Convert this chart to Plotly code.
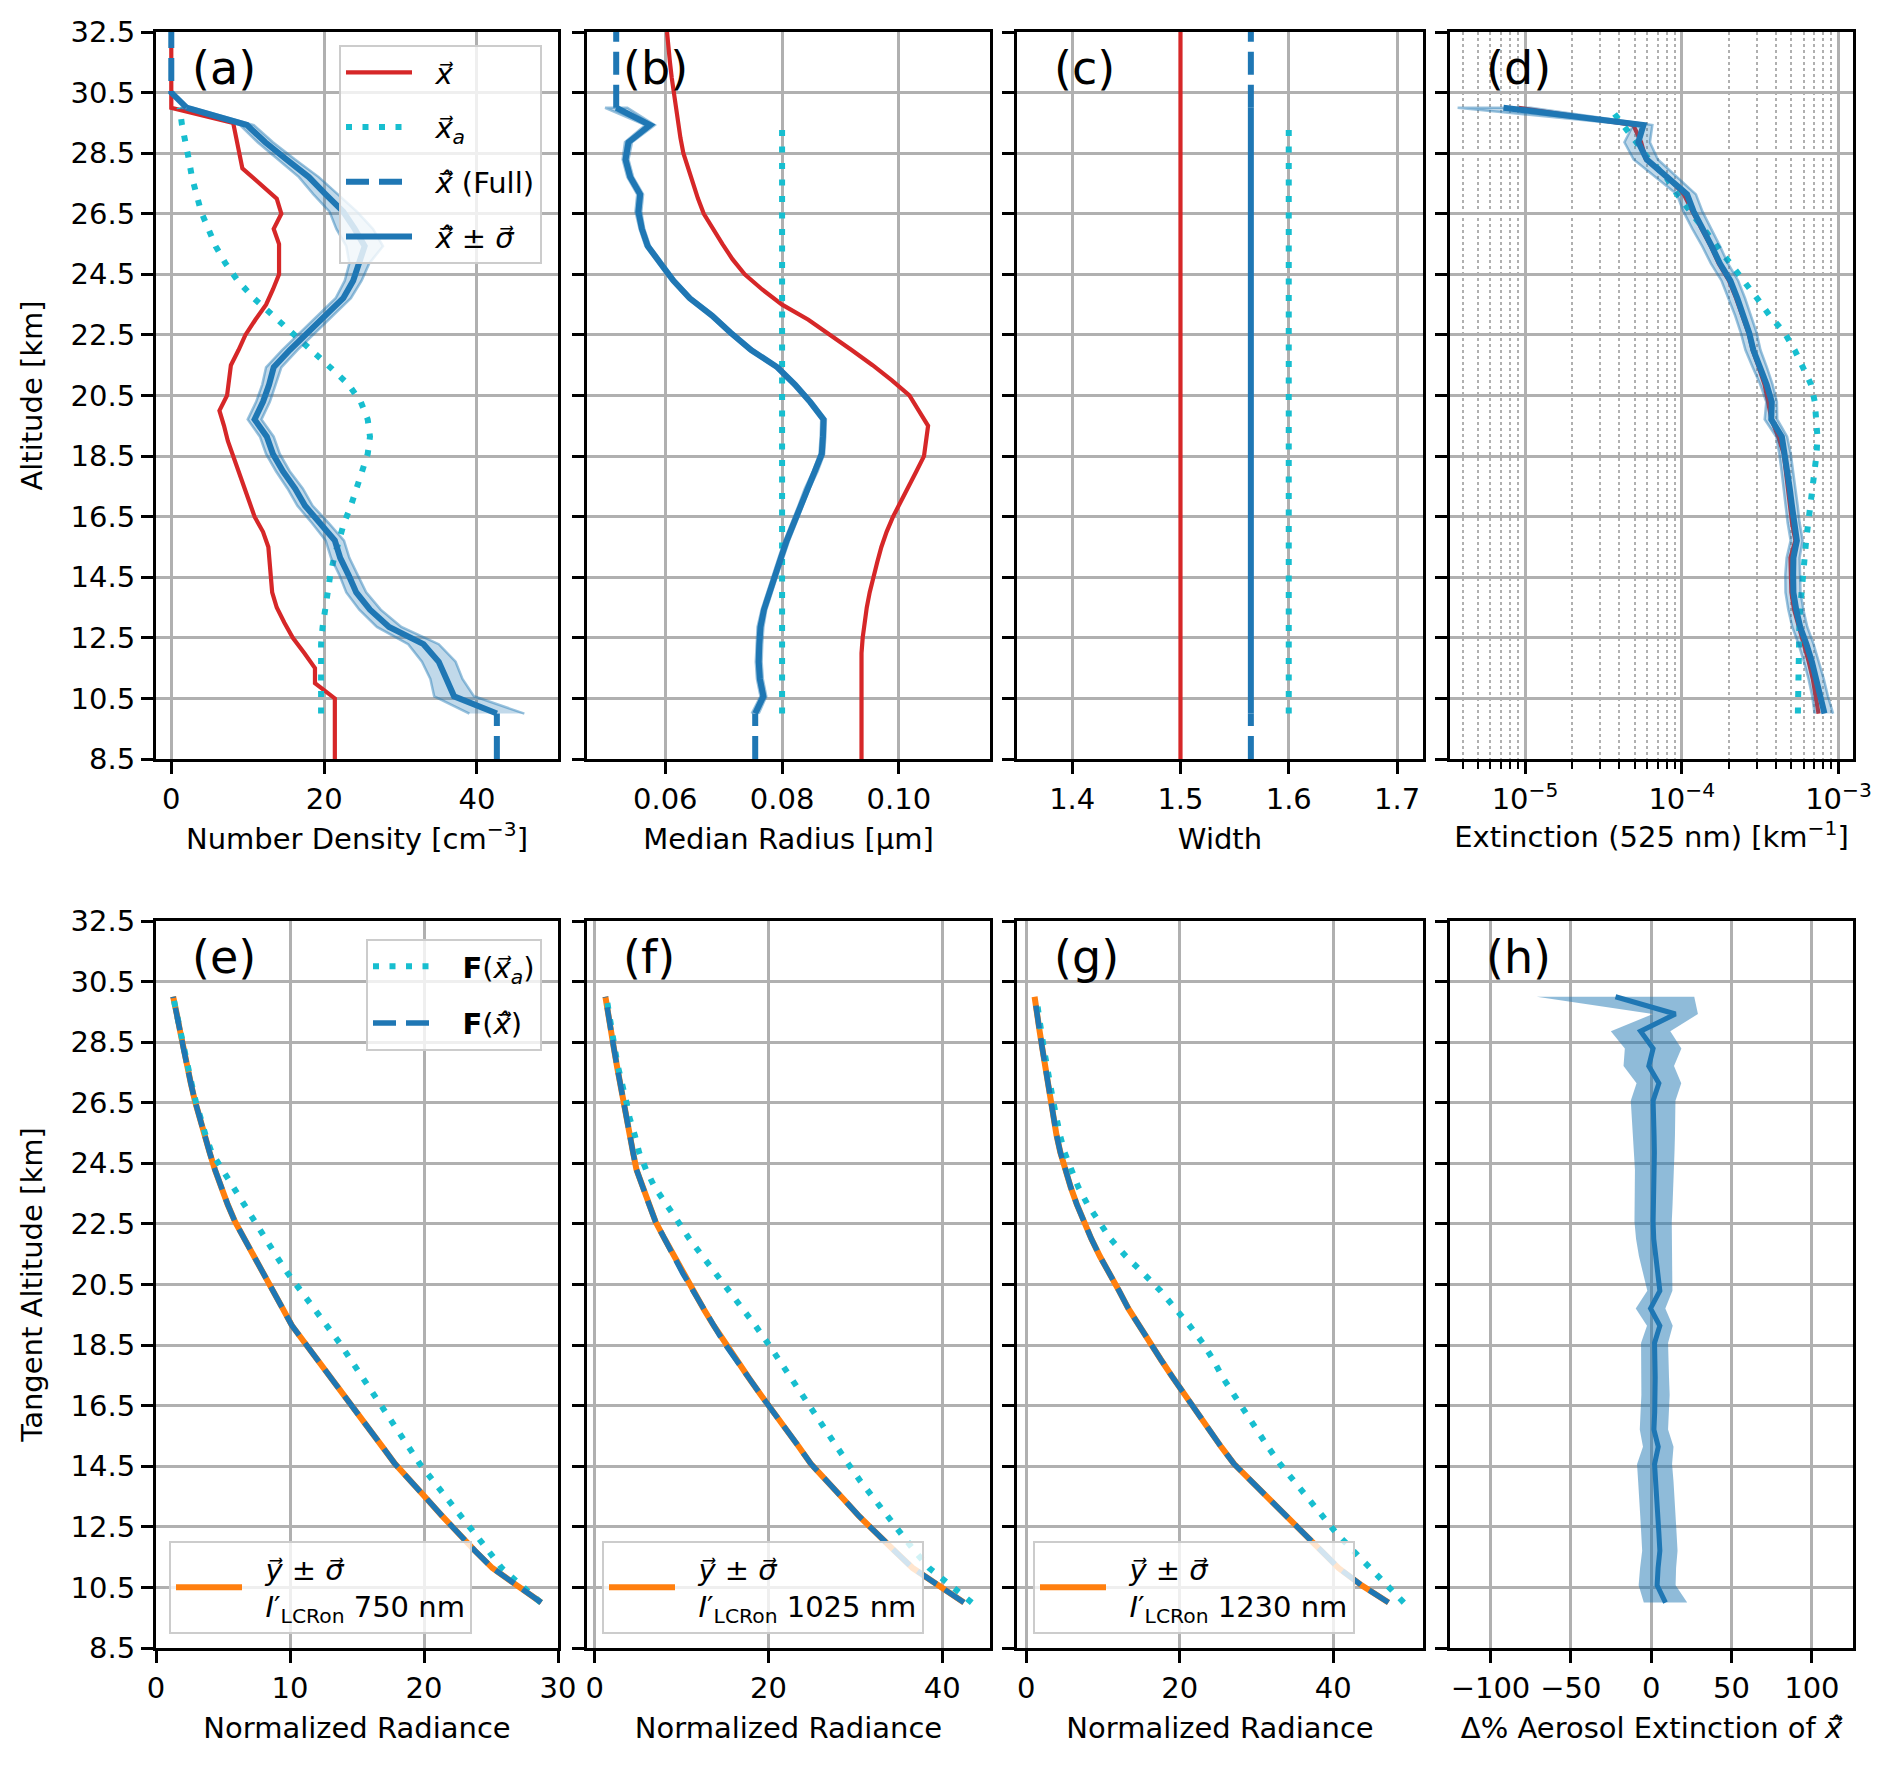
import plotly.graph_objects as go

# ---- altitude grids [km] ----
alt_ret = [10.00, 10.57, 11.14, 11.71, 12.29, 12.86, 13.43, 14.00, 14.57, 15.14,
           15.71, 16.29, 16.86, 17.43, 18.00, 18.57, 19.14, 19.71, 20.29, 20.86,
           21.43, 22.00, 22.57, 23.14, 23.71, 24.29, 24.86, 25.43, 26.00, 26.57,
           27.14, 27.71, 28.29, 28.86, 29.43, 30.00]
alt_prior_bc = [10.00, 10.57, 11.14, 11.71, 12.29, 12.86, 13.43, 14.00, 14.57, 15.14,
                15.71, 16.29, 16.86, 17.43, 18.00, 18.57, 19.14, 19.71, 20.29, 20.86,
                21.43, 22.00, 22.57, 23.14, 23.71, 24.29, 24.86, 25.43, 26.00, 26.57,
                27.14, 27.71, 28.29, 28.86, 29.43]
alt_true = [8.5, 9.0, 9.5, 10.0, 10.5, 11.0, 11.5, 12.0, 12.5, 13.0,
            13.5, 14.0, 14.5, 15.0, 15.5, 16.0, 16.5, 17.0, 17.5, 18.0,
            18.5, 19.0, 19.5, 20.0, 20.5, 21.0, 21.5, 22.0, 22.5, 23.0,
            23.5, 24.0, 24.5, 25.0, 25.5, 26.0, 26.5, 27.0, 27.5, 28.0,
            28.5, 29.0, 29.5, 30.0, 30.5, 31.0, 31.5, 32.0, 32.5]
alt_full_lo = [8.5, 10.0]
alt_full_hi = [30.0, 30.5, 32.5]
alt_ticks = [8.5, 10.5, 12.5, 14.5, 16.5, 18.5, 20.5, 22.5, 24.5, 26.5, 28.5, 30.5, 32.5]

# ---- (a) number density [cm^-3] ----
nd_true = [21.4, 21.4, 21.4, 21.4, 21.4, 18.8, 18.8, 17.4, 15.9, 14.8,
           13.8, 13.2, 13.0, 12.9, 12.7, 12.0, 10.9, 10.2, 9.5, 8.7,
           8.0, 7.4, 6.9, 6.3, 7.3, 7.5, 7.8, 8.8, 9.7, 11.0,
           12.4, 13.3, 14.1, 14.1, 14.1, 13.4, 14.4, 13.8, 11.5, 9.3,
           8.9, 8.5, 8.1, 0.0, 0.0, 0.0, 0.0, 0.0, 0.0]
nd_prior = [19.6, 19.6, 19.6, 19.6, 19.6, 19.8, 20.1, 20.4, 20.8, 21.3,
            21.9, 22.6, 23.5, 24.3, 25.1, 25.7, 26.0, 25.7, 24.8, 23.2,
            20.8, 18.4, 15.8, 13.3, 10.8, 8.7, 7.1, 5.8, 4.8, 3.9,
            3.3, 2.7, 2.3, 1.8, 1.4, 1.1]
nd_ret = [42.6, 37.0, 36.0, 35.0, 33.0, 28.5, 26.0, 24.2, 23.2, 22.1,
          21.4, 19.5, 17.5, 16.2, 14.6, 13.3, 12.5, 10.9, 12.0, 12.8,
          13.4, 15.5, 17.8, 20.2, 22.5, 23.8, 24.6, 25.3, 24.0, 22.5,
          20.2, 18.0, 15.1, 12.3, 9.9, 2.0]
nd_sig = [3.6, 2.6, 2.1, 2.2, 2.0, 1.6, 1.4, 1.3, 1.2, 1.2,
          1.2, 1.1, 1.0, 1.0, 0.9, 0.9, 0.9, 0.9, 0.9, 0.9,
          1.0, 1.0, 1.0, 1.0, 1.0, 1.1, 1.3, 2.4, 2.4, 1.8,
          1.6, 1.3, 1.1, 1.0, 0.9, 0.8]
nd_full_lo = [42.6, 42.6]
nd_full_hi = [2.0, 0.0, 0.0]

# ---- (b) median radius [um] ----
rad_true = [0.0936, 0.0936, 0.0936, 0.0936, 0.0936, 0.0936, 0.0936, 0.0936, 0.0938, 0.0941,
            0.0945, 0.0950, 0.0956, 0.0963, 0.0970, 0.0979, 0.0990, 0.1004, 0.1017, 0.1030,
            0.1043, 0.1047, 0.1050, 0.1034, 0.1018, 0.0988, 0.0955, 0.0919, 0.0883, 0.0845,
            0.0800, 0.0766, 0.0736, 0.0715, 0.0698, 0.0681, 0.0666, 0.0656, 0.0648, 0.0639,
            0.0631, 0.0626, 0.0622, 0.0618, 0.0614, 0.0611, 0.0608, 0.0606, 0.0603]
rad_prior = 0.080
rad_ret = [0.0754, 0.0768, 0.0762, 0.0760, 0.0761, 0.0763, 0.0769, 0.0778, 0.0788, 0.0798,
           0.0808, 0.0820, 0.0832, 0.0843, 0.0857, 0.0868, 0.0870, 0.0871, 0.0848, 0.0822,
           0.0792, 0.0747, 0.0712, 0.0680, 0.0642, 0.0614, 0.0592, 0.0570, 0.0560, 0.0554,
           0.0557, 0.0540, 0.0532, 0.0537, 0.0574, 0.0516]
rad_sig = [0.0006, 0.0005, 0.0005, 0.0005, 0.0005, 0.0005, 0.0004, 0.0004, 0.0004, 0.0004,
           0.0004, 0.0004, 0.0004, 0.0004, 0.0004, 0.0004, 0.0004, 0.0004, 0.0004, 0.0004,
           0.0004, 0.0004, 0.0004, 0.0004, 0.0004, 0.0004, 0.0004, 0.0004, 0.0004, 0.0005,
           0.0005, 0.0005, 0.0005, 0.0006, 0.0008, 0.0019]
rad_full_lo = [0.0754, 0.0754]
rad_full_hi = [0.0516, 0.0516, 0.0516]

# ---- (c) distribution width ----
wid_true = 1.5
wid_prior = 1.6
wid_ret = 1.565

# ---- (d) extinction at 525 nm [km^-1] ----
ext_true = [7.45e-4, 7.15e-4, 6.85e-4, 6.45e-4, 6.00e-4, 5.50e-4, 5.20e-4, 5.00e-4, 5.00e-4, 4.93e-4,
            5.30e-4, 5.05e-4, 4.90e-4, 4.76e-4, 4.63e-4, 4.47e-4, 4.12e-4, 3.73e-4, 3.55e-4, 3.37e-4,
            3.10e-4, 2.83e-4, 2.66e-4, 2.44e-4, 2.22e-4, 2.00e-4, 1.72e-4, 1.53e-4, 1.33e-4, 1.17e-4,
            1.03e-4, 8.10e-5, 5.90e-5, 5.50e-5, 4.90e-5, 9.10e-6]
ext_prior = [5.50e-4, 5.50e-4, 5.50e-4, 5.52e-4, 5.55e-4, 5.62e-4, 5.68e-4, 5.79e-4, 5.92e-4, 6.05e-4,
             6.21e-4, 6.40e-4, 6.61e-4, 6.87e-4, 7.11e-4, 7.24e-4, 7.33e-4, 7.24e-4, 7.05e-4, 6.68e-4,
             5.96e-4, 5.25e-4, 4.52e-4, 3.63e-4, 3.02e-4, 2.48e-4, 2.04e-4, 1.66e-4, 1.36e-4, 1.15e-4,
             9.33e-5, 7.94e-5, 6.17e-5, 5.13e-5, 4.27e-5, 3.47e-5]
ext_ret = [8.13e-4, 7.67e-4, 7.24e-4, 6.76e-4, 6.24e-4, 5.69e-4, 5.37e-4, 5.15e-4, 5.13e-4, 5.15e-4,
           5.42e-4, 5.19e-4, 5.04e-4, 4.88e-4, 4.73e-4, 4.57e-4, 4.35e-4, 3.72e-4, 3.75e-4, 3.48e-4,
           3.16e-4, 2.86e-4, 2.69e-4, 2.48e-4, 2.26e-4, 2.04e-4, 1.75e-4, 1.55e-4, 1.35e-4, 1.19e-4,
           1.08e-4, 8.02e-5, 5.98e-5, 5.28e-5, 5.69e-5, 7.28e-6]
ext_ticks = [1e-5, 1e-4, 1e-3]
ext_ticktext = ["10<sup>\u22125</sup>", "10<sup>\u22124</sup>", "10<sup>\u22123</sup>"]

# ---- (h) percent difference of retrieved extinction and its 1-sigma [%] ----
ext_delta = [8.9, 3.7, 4.3, 5.4, 4.8, 4.2, 3.7, 2.9, 2.1, 4.4,
             1.7, 2.2, 2.7, 2.5, 2.3, 2.1, 5.4, -0.4, 5.4, 4.0,
             2.8, 1.6, 1.2, 1.5, 1.8, 2.1, 2.0, 1.8, 1.5, 1.2,
             4.8, -1.5, 1.2, -6.6, 15.1, -22.2]
ext_sig = [13.5, 11.5, 11.2, 11.0, 11.0, 11.0, 11.0, 11.0, 10.9, 9.5,
           8.8, 8.8, 8.8, 8.6, 8.5, 8.4, 8.0, 9.2, 7.8, 9.0,
           10.4, 11.0, 11.6, 11.8, 12.0, 12.2, 12.5, 13.0, 13.5, 13.9,
           13.9, 15.7, 17.6, 18.5, 14.0, 49.0]

# ---- (e)-(g) normalized radiance ----
y750 = [28.75, 26.9, 25.1, 23.8, 22.5, 21.35, 20.2, 19.05, 17.85, 16.9,
        15.95, 14.95, 14.0, 13.0, 12.05, 11.1, 10.15, 9.45, 8.75, 8.0,
        7.3, 6.6, 5.9, 5.35, 4.85, 4.4, 4.0, 3.6, 3.25, 2.9,
        2.6, 2.3, 2.05, 1.8, 1.55, 1.28]
fa750 = [28.7, 27.3, 25.8, 24.8, 23.75, 22.75, 21.75, 20.7, 19.7, 18.85,
         18.0, 17.15, 16.3, 15.45, 14.55, 13.7, 12.75, 11.75, 10.75, 9.85,
         9.0, 8.2, 7.4, 6.6, 5.8, 4.95, 4.15, 3.7, 3.3, 2.95,
         2.65, 2.4, 2.1, 1.8, 1.55, 1.28]
y1025 = [42.5, 39.5, 36.6, 34.5, 32.4, 30.4, 28.6, 26.7, 24.9, 23.5,
         22.0, 20.5, 19.1, 17.7, 16.3, 14.9, 13.7, 12.5, 11.35, 10.15,
         9.1, 8.05, 7.0, 6.25, 5.55, 4.8, 4.4, 4.0, 3.65, 3.25,
         2.9, 2.55, 2.2, 1.85, 1.55, 1.22]
fa1025 = [43.4, 41.0, 38.5, 36.8, 35.2, 33.7, 32.2, 30.6, 29.2, 27.9,
          26.6, 25.3, 23.9, 22.5, 21.3, 19.9, 18.5, 17.0, 15.5, 13.9,
          12.3, 10.9, 9.6, 8.2, 6.9, 5.9, 5.1, 4.6, 4.0, 3.6,
          3.1, 2.65, 2.3, 1.95, 1.6, 1.33]
y1230 = [47.2, 43.7, 40.7, 38.4, 36.1, 33.8, 31.5, 29.2, 27.1, 25.4,
         23.8, 22.1, 20.6, 19.1, 17.6, 16.1, 14.6, 13.3, 12.1, 10.8,
         9.6, 8.5, 7.5, 6.6, 5.8, 5.05, 4.45, 3.95, 3.55, 3.25,
         2.85, 2.5, 2.1, 1.75, 1.4, 1.09]
fa1230 = [49.2, 47.0, 44.9, 42.7, 40.4, 38.6, 36.7, 34.9, 33.1, 31.5,
          30.0, 28.5, 27.0, 25.6, 24.4, 23.0, 21.3, 19.5, 17.5, 15.3,
          13.0, 11.0, 9.4, 8.0, 6.8, 5.8, 5.0, 4.4, 3.9, 3.5,
          3.1, 2.65, 2.3, 1.95, 1.6, 1.3]
wavelengths = ["750", "1025", "1230"]

panel_labels = ["(a)", "(b)", "(c)", "(d)", "(e)", "(f)", "(g)", "(h)"]
x_ranges = [[-2.0, 50.6], [0.0466, 0.1156], [1.349, 1.724], [-5.479, -2.908],
            [0, 30], [-0.9, 45.5], [-1.2, 51.7], [-125.2, 125.6]]
x_tickvals = [[0, 20, 40], [0.06, 0.08, 0.10], [1.4, 1.5, 1.6, 1.7], ext_ticks,
              [0, 10, 20, 30], [0, 20, 40], [0, 20, 40], [-100, -50, 0, 50, 100]]
x_ticktext = [None, ["0.06", "0.08", "0.10"], None, ext_ticktext, None, None, None, None]

RED, BLUE, CYAN, ORANGE = "#d62728", "#1f77b4", "#17becf", "#ff7f0e"
DOT = "6px,10.5px"
DASH = "23px,10px"
W, H = 1892, 1766
cols = [(156, 558), (587, 990), (1017, 1423), (1450, 1853)]
rows = [(32, 759), (921, 1648)]
FONT = "DejaVu Sans"
NB = "\u00a0\u00a0"

X_ARROW = "<i>x\u20d7</i>"
X_HAT = "<i>x\u0302\u20d7</i>"
SIGMA = "<i>\u03c3\u20d7</i>"
x_titles = ["Number Density [cm<sup>\u22123</sup>]", "Median Radius [\u03bcm]", "Width",
            "Extinction (525 nm) [km<sup>\u22121</sup>]", "Normalized Radiance",
            "Normalized Radiance", "Normalized Radiance",
            "\u0394% Aerosol Extinction of " + X_HAT]

fig = go.Figure()


def ax_ids(p):
    return ("x", "y") if p == 0 else (f"x{p + 1}", f"y{p + 1}")


def add_line(p, x, y, color, width, dash="solid", name=None, legend=None):
    xa, ya = ax_ids(p)
    fig.add_trace(go.Scatter(
        x=x, y=y, xaxis=xa, yaxis=ya, mode="lines",
        line=dict(color=color, width=width, dash=dash),
        name=name, showlegend=legend is not None, legend=legend or "legend",
        legendgroup=name if legend else None, hoverinfo="skip"))


def add_band(p, alts, lo, hi, fill, edge, edge_w):
    xa, ya = ax_ids(p)
    fig.add_trace(go.Scatter(
        x=list(hi) + list(lo)[::-1], y=list(alts) + list(alts)[::-1],
        xaxis=xa, yaxis=ya, mode="lines", fill="toself", fillcolor=fill,
        line=dict(color=edge, width=edge_w), showlegend=False, hoverinfo="skip"))


BAND_FILL = "rgba(31,119,180,0.28)"
BAND_EDGE = "rgba(31,119,180,0.45)"

# (a)
add_line(0, nd_true, alt_true, RED, 4.2, name=NB + X_ARROW, legend="legend")
add_line(0, nd_prior, alt_ret, CYAN, 6, DOT, name=NB + X_ARROW + "<sub><i>a</i></sub>",
         legend="legend")
add_line(0, nd_full_hi, alt_full_hi, BLUE, 6, DASH, name=NB + X_HAT + " (Full)", legend="legend")
add_line(0, nd_full_lo, alt_full_lo, BLUE, 6, DASH)
add_band(0, alt_ret, [m - s for m, s in zip(nd_ret, nd_sig)],
         [m + s for m, s in zip(nd_ret, nd_sig)], BAND_FILL, BAND_EDGE, 2.5)
add_line(0, nd_ret, alt_ret, BLUE, 6, name=NB + X_HAT + " \u00b1 " + SIGMA, legend="legend")

# (b)
add_line(1, rad_true, alt_true, RED, 4.2)
add_line(1, [rad_prior] * len(alt_prior_bc), alt_prior_bc, CYAN, 6, DOT)
add_line(1, rad_full_hi, alt_full_hi, BLUE, 6, DASH)
add_line(1, rad_full_lo, alt_full_lo, BLUE, 6, DASH)
add_band(1, alt_ret, [m - s for m, s in zip(rad_ret, rad_sig)],
         [m + s for m, s in zip(rad_ret, rad_sig)], BAND_FILL, BAND_EDGE, 2.5)
add_line(1, rad_ret, alt_ret, BLUE, 6)

# (c)
add_line(2, [wid_true] * len(alt_true), alt_true, RED, 4.2)
add_line(2, [wid_prior] * len(alt_prior_bc), alt_prior_bc, CYAN, 6, DOT)
add_line(2, [wid_ret] * len(alt_full_hi), alt_full_hi, BLUE, 6, DASH)
add_line(2, [wid_ret] * len(alt_full_lo), alt_full_lo, BLUE, 6, DASH)
add_line(2, [wid_ret] * len(alt_ret), alt_ret, BLUE, 6)

# (d)
add_line(3, ext_true, alt_ret, RED, 4.2)
add_line(3, ext_prior, alt_ret, CYAN, 6, DOT)
add_band(3, alt_ret, [e * (1 - s / 100) for e, s in zip(ext_ret, ext_sig)],
         [e * (1 + s / 100) for e, s in zip(ext_ret, ext_sig)], BAND_FILL, BAND_EDGE, 2.5)
add_line(3, ext_ret, alt_ret, BLUE, 6)

# (e)-(g)
rad_sets = [(y750, fa750), (y1025, fa1025), (y1230, fa1230)]
for k, (ymeas, fprior) in enumerate(rad_sets):
    p = 4 + k
    add_line(p, ymeas, alt_ret, ORANGE, 6,
             name=(NB + "<i>y\u20d7</i> \u00b1 " + SIGMA + "<br>" + NB +
                   "<i>I</i>\u2032<sub>LCRon</sub> " + wavelengths[k] + " nm"),
             legend=f"legend{3 + k}")
    add_line(p, fprior, alt_ret, CYAN, 6, DOT,
             name=NB + "<b>F</b>(" + X_ARROW + "<sub><i>a</i></sub>)" if k == 0 else None,
             legend="legend2" if k == 0 else None)
    add_line(p, ymeas, alt_ret, BLUE, 5.5, DASH,
             name=NB + "<b>F</b>(" + X_HAT + ")" if k == 0 else None,
             legend="legend2" if k == 0 else None)

# (h)
add_band(7, alt_ret, [d - s for d, s in zip(ext_delta, ext_sig)],
         [d + s for d, s in zip(ext_delta, ext_sig)], "rgba(31,119,180,0.5)",
         "rgba(31,119,180,0)", 0)
add_line(7, ext_delta, alt_ret, BLUE, 5)

# ---- axes ----
axis_style = dict(showline=True, linecolor="black", linewidth=3, mirror=True,
                  showgrid=True, gridcolor="#b0b0b0", gridwidth=2.5,
                  ticks="outside", ticklen=12, tickwidth=3, tickcolor="black",
                  zeroline=False, automargin=False,
                  tickfont=dict(size=29, color="black", family=FONT))
layout_axes = {}
annotations = []
for i in range(8):
    r, c = divmod(i, 4)
    sfx = "" if i == 0 else str(i + 1)
    xa = dict(axis_style, domain=[cols[c][0] / W, cols[c][1] / W],
              anchor="y" + sfx, range=x_ranges[i], tickmode="array",
              tickvals=x_tickvals[i],
              title=dict(text=x_titles[i], font=dict(size=29, color="black", family=FONT),
                         standoff=8 if i == 3 else 14))
    if x_ticktext[i]:
        xa.update(ticktext=x_ticktext[i])
    if i == 3:
        xa.update(type="log",
                  minor=dict(ticks="outside", ticklen=7, tickwidth=2, tickcolor="black",
                             dtick="D1", showgrid=True, gridcolor="#b0b0b0",
                             griddash="dot", gridwidth=2))
    ya = dict(axis_style, domain=[1 - rows[r][1] / H, 1 - rows[r][0] / H],
              anchor="x" + sfx, range=[8.5, 32.5], tickmode="array",
              tickvals=alt_ticks, showticklabels=(c == 0))
    if c == 0:
        ya["title"] = dict(text="Altitude [km]" if r == 0 else "Tangent Altitude [km]",
                           font=dict(size=29, color="black", family=FONT), standoff=20)
    layout_axes["xaxis" + sfx] = xa
    layout_axes["yaxis" + sfx] = ya
    annotations.append(dict(text=panel_labels[i], xref="x" + sfx + " domain",
                            yref="y" + sfx + " domain", x=0.085, y=0.95,
                            xanchor="left", yanchor="middle", showarrow=False,
                            font=dict(size=46, color="black", family=FONT)))

legend_style = dict(bgcolor="rgba(255,255,255,0.8)", bordercolor="#cccccc", borderwidth=2,
                    font=dict(size=29, color="black", family=FONT), itemwidth=66,
                    traceorder="grouped")

fig.update_layout(
    width=W, height=H,
    margin=dict(l=0, r=0, t=0, b=0),
    paper_bgcolor="white", plot_bgcolor="white",
    font=dict(family=FONT, color="black"),
    annotations=annotations,
    legend=dict(legend_style, x=542 / W, y=1 - 45 / H, xanchor="right", yanchor="top",
                tracegroupgap=14),
    legend2=dict(legend_style, x=542 / W, y=1 - 939 / H, xanchor="right", yanchor="top",
                 tracegroupgap=16),
    legend3=dict(legend_style, x=169 / W, y=1 - 1634 / H, xanchor="left", yanchor="bottom"),
    legend4=dict(legend_style, x=602 / W, y=1 - 1634 / H, xanchor="left", yanchor="bottom"),
    legend5=dict(legend_style, x=1033 / W, y=1 - 1634 / H, xanchor="left", yanchor="bottom"),
    **layout_axes,
)

fig.write_html("out.html", config={"displayModeBar": False},
               post_script="document.body.style.margin='0px';")
